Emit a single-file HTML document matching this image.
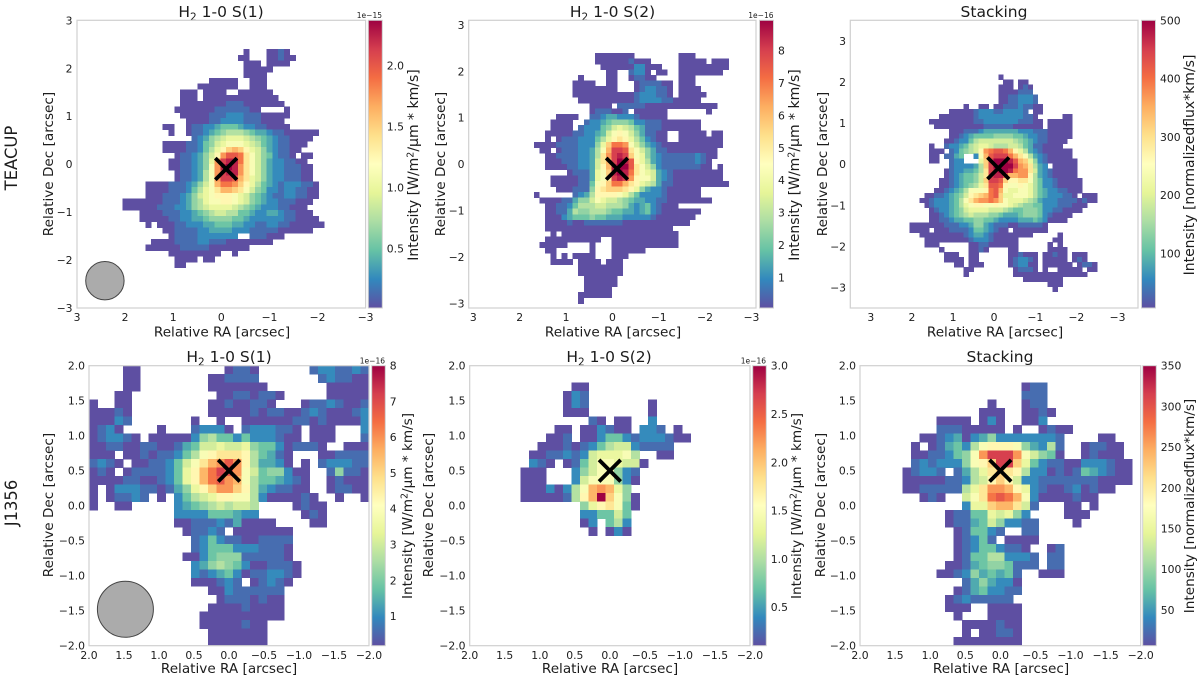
<!DOCTYPE html>
<html lang="en">
<head>
<meta charset="utf-8">
<title>H2 emission maps</title>
<style>
html,body{margin:0;padding:0;background:#fff;}
svg{display:block;filter:blur(0.35px);font-family:"DejaVu Sans","Liberation Sans",sans-serif;}
text{fill:#1c1c1c;}
.title{font-size:15.5px;text-anchor:middle;}
.axt{font-size:13.6px;text-anchor:middle;}
.cbt{font-size:14px;text-anchor:middle;}
.cbt2{font-size:13.6px;text-anchor:middle;}
.off{font-size:7.5px;text-anchor:end;}
.tick{font-size:10.8px;}
.row{font-size:16.4px;text-anchor:middle;}
.spine{fill:none;stroke:#d0d0d0;stroke-width:1.2;}
</style>
</head>
<body>
<svg id="fig" width="1200" height="680" viewBox="0 0 1200 680" xmlns="http://www.w3.org/2000/svg">
<defs>
<linearGradient id="spectral" x1="0" y1="0" x2="0" y2="1">
<stop offset="0" stop-color="#9e0142"/><stop offset="0.1" stop-color="#d53e4f"/><stop offset="0.2" stop-color="#f46d43"/><stop offset="0.3" stop-color="#fdae61"/><stop offset="0.4" stop-color="#fee08b"/><stop offset="0.5" stop-color="#ffffbf"/><stop offset="0.6" stop-color="#e6f598"/><stop offset="0.7" stop-color="#abdda4"/><stop offset="0.8" stop-color="#66c2a5"/><stop offset="0.9" stop-color="#3288bd"/><stop offset="1" stop-color="#5e4fa2"/>
</linearGradient>
<clipPath id="clip-0"><rect x="77" y="20.3" width="288.6" height="287.7"/></clipPath>
<clipPath id="clip-1"><rect x="468.7" y="20.3" width="287.3" height="287.7"/></clipPath>
<clipPath id="clip-2"><rect x="850.3" y="20.3" width="287.7" height="287.7"/></clipPath>
<clipPath id="clip-3"><rect x="89" y="365.7" width="280" height="280"/></clipPath>
<clipPath id="clip-4"><rect x="469.7" y="365.7" width="280.3" height="280"/></clipPath>
<clipPath id="clip-5"><rect x="860" y="365.7" width="280.7" height="280"/></clipPath>
</defs>

<text class="row" transform="translate(17,158) rotate(-90)">TEACUP</text>
<text class="row" transform="translate(17,503) rotate(-90)">J1356</text>

<g id="panel-0">
<text class="title" x="221" y="17">H<tspan font-size="10.5" dy="3.5">2</tspan><tspan dy="-3.5"> 1-0 S(1)</tspan></text>
<text class="axt" x="222" y="336.5">Relative RA [arcsec]</text>
<text class="axt" transform="translate(53,164) rotate(-90)">Relative Dec [arcsec]</text>
<rect x="368.3" y="20.3" width="14" height="287.7" fill="url(#spectral)" stroke="#d0d0d0" stroke-width="1"/>
<text class="off" x="382" y="18">1e−15</text>
<text class="cbt" transform="translate(418,165) rotate(-90)">Intensity [W/m<tspan font-size="9.5" dy="-4.5">2</tspan><tspan dy="4.5">/μm * km/s]</tspan></text>
</g>

<g id="panel-1">
<text class="title" x="612.5" y="17">H<tspan font-size="10.5" dy="3.5">2</tspan><tspan dy="-3.5"> 1-0 S(2)</tspan></text>
<text class="axt" x="613" y="336.5">Relative RA [arcsec]</text>
<text class="axt" transform="translate(445,164) rotate(-90)">Relative Dec [arcsec]</text>
<rect x="759.5" y="20.3" width="14" height="287.7" fill="url(#spectral)" stroke="#d0d0d0" stroke-width="1"/>
<text class="off" x="773.5" y="18">1e−16</text>
<text class="cbt" transform="translate(799,165) rotate(-90)">Intensity [W/m<tspan font-size="9.5" dy="-4.5">2</tspan><tspan dy="4.5">/μm * km/s]</tspan></text>
</g>

<g id="panel-2">
<text class="title" x="994" y="17">Stacking</text>
<text class="axt" x="995" y="336.5">Relative RA [arcsec]</text>
<text class="axt" transform="translate(827,164) rotate(-90)">Relative Dec [arcsec]</text>
<rect x="1141.5" y="20.3" width="14" height="287.7" fill="url(#spectral)" stroke="#d0d0d0" stroke-width="1"/>
<text class="cbt" transform="translate(1194,165) rotate(-90)">Intensity [normalizedflux*km/s]</text>
</g>

<g id="panel-3">
<text class="title" x="229" y="362">H<tspan font-size="10.5" dy="3.5">2</tspan><tspan dy="-3.5"> 1-0 S(1)</tspan></text>
<text class="axt" x="229" y="673">Relative RA [arcsec]</text>
<text class="axt" transform="translate(53,505) rotate(-90)">Relative Dec [arcsec]</text>
<rect x="371.7" y="365.7" width="13.6" height="280" fill="url(#spectral)" stroke="#d0d0d0" stroke-width="1"/>
<text class="off" x="385" y="363.5">1e−16</text>
<text class="cbt2" transform="translate(412,506) rotate(-90)">Intensity [W/m<tspan font-size="9.5" dy="-4.5">2</tspan><tspan dy="4.5">/μm * km/s]</tspan></text>
</g>

<g id="panel-4">
<text class="title" x="609" y="362">H<tspan font-size="10.5" dy="3.5">2</tspan><tspan dy="-3.5"> 1-0 S(2)</tspan></text>
<text class="axt" x="610" y="673">Relative RA [arcsec]</text>
<text class="axt" transform="translate(433,505) rotate(-90)">Relative Dec [arcsec]</text>
<rect x="752.7" y="365.7" width="13.6" height="280" fill="url(#spectral)" stroke="#d0d0d0" stroke-width="1"/>
<text class="off" x="766" y="363.5">1e−16</text>
<text class="cbt2" transform="translate(801,506) rotate(-90)">Intensity [W/m<tspan font-size="9.5" dy="-4.5">2</tspan><tspan dy="4.5">/μm * km/s]</tspan></text>
</g>

<g id="panel-5">
<text class="title" x="1000" y="362">Stacking</text>
<text class="axt" x="1001" y="673">Relative RA [arcsec]</text>
<text class="axt" transform="translate(825,505) rotate(-90)">Relative Dec [arcsec]</text>
<rect x="1142.7" y="365.7" width="13.6" height="280" fill="url(#spectral)" stroke="#d0d0d0" stroke-width="1"/>
<text class="cbt2" transform="translate(1194,506) rotate(-90)">Intensity [normalizedflux*km/s]</text>
</g>
</svg>

<script>
// Heatmap rows: [first column, level, level, ...]. Levels are twentieths of the colour scale; 0 = masked pixel.
const teacupS1FirstRow = 5;
const teacupS1Rows = [
[29,1,0,0,0,1,1,2,1],
[28,1,1,0,0,0,1,1,2,1,1],
[29,1,1,1,0,1,1,1,1],
[29,1,1,1,1,1],
[29,1,1,1,1],
[23,1,1,1,1,1,0,0,1,1,1],
[21,1,1,1,1,1,1,1,0,0,1,1,1],
[18,1,1,1,0,1,1,1,1,0,0,1,1,1,1,1,1],
[18,1,1,1,0,1,1,1,1,1,1,1,1,1,1,1,1,1],
[18,1,1,1,1,1,1,1,1,2,2,2,1,1,1,1,1,1,1],
[17,1,1,1,1,1,1,1,2,2,2,2,2,2,1,1,0,0,0,0,1],
[18,1,1,1,1,1,2,2,2,3,3,3,2,2,2,1,1,1,1,1],
[19,1,1,1,1,2,2,3,3,3,3,2,2,2,1,1,1,1],
[15,1,1,0,0,1,2,2,3,3,4,5,5,5,4,3,3,2,2,1,1,1,1],
[16,1,0,0,1,2,2,3,4,5,6,7,7,7,6,5,4,4,3,2,2,1,1,1,1,1,1],
[20,2,3,4,6,7,8,9,9,9,8,7,6,5,4,3,2,2,1,1,1,1],
[15,1,1,1,1,2,2,3,5,6,8,9,10,10,10,9,8,7,5,4,3,2,2,1,1,1],
[15,1,1,1,1,2,2,3,5,7,9,11,13,14,13,11,9,8,6,4,3,2,2,1,1],
[17,1,2,2,3,4,6,8,11,15,17,17,16,12,10,8,6,5,3,2,2,1,0,1,1],
[16,1,1,2,2,3,4,6,9,15,18,19,19,16,12,10,8,6,4,3,3,2,2,1,1],
[16,1,1,2,2,3,4,6,10,15,19,20,19,15,12,10,8,6,4,3,3,2,2,2,1,1],
[17,1,2,2,3,4,7,10,15,18,19,19,15,12,10,8,6,4,3,3,2,2,2,1,1],
[17,1,2,2,3,4,7,10,15,18,18,17,14,12,9,8,6,4,3,3,2,2,2,1,1],
[12,1,1,1,1,2,2,2,3,4,6,8,10,14,16,16,15,13,11,9,7,5,4,3,2,3,3,3,2,2,1],
[12,1,1,1,1,2,2,2,3,5,7,9,10,12,14,14,13,12,10,8,6,5,3,3,2,3,3,2,2,1,1],
[12,1,1,1,2,2,2,3,4,6,8,9,10,11,11,11,10,9,8,6,5,4,3,2,2,3,3,2,2,1,1],
[8,1,1,1,1,1,1,1,2,2,2,3,4,6,7,9,10,10,11,11,10,9,8,6,5,4,3,3,2,2,2,1,1,1],
[8,1,1,1,1,1,1,2,2,2,3,3,4,6,7,8,9,9,9,9,8,7,6,5,4,3,3,3,2,2,1,1,1],
[11,1,1,1,1,2,2,2,3,3,4,5,6,7,8,8,7,7,5,5,4,3,3,4,4,3,2,2,1,1,1],
[11,1,1,1,1,1,2,2,3,3,4,4,5,6,6,6,6,5,5,4,3,3,3,3,3,3,2,2,1,1,1,1],
[12,1,0,1,1,1,2,2,3,3,3,4,4,5,5,5,4,4,3,3,2,2,3,3,2,2,1,1,1,1,1,1],
[15,1,1,2,2,2,2,3,3,4,4,4,4,3,3,3,2,2,2,2,2,1,1,1,1,1,1],
[16,1,2,2,2,2,3,3,3,3,3,3,3,0,0,2,2,2,1,1,1],
[13,1,1,1,1,2,2,2,2,3,3,2,2,2,1,1,1,1,1,1,1,1],
[12,1,1,1,1,1,1,2,2,2,2,2,1,1,1,1,1,1,1],
[16,1,1,1,1,1,1,1,1,1,0,0,1],
[17,1,1,1,1,0,1,1],
[17,1,1]
];

const teacupS2FirstRow = 6;
const teacupS2Rows = [
[23,1,1,1,1,1,1,1,0,0,0,0,0,0,0,0,1,1,1],
[23,1,1,1,1,1,1,2,1,1,1,0,0,0,0,0,1,1,1,1,1,0,1,1,1],
[24,1,1,1,1,1,1,3,3,1,1,1,0,0,0,1,1,1,1,1,1,1,1,1],
[25,1,1,0,0,2,3,3,1,0,1,1,0,0,1,1,1,1,1,1,1,1],
[20,1,0,0,0,0,1,1,0,0,1,2,2,1,1,0,0,0,0,1,1,1],
[19,1,1,1,1,0,0,1,1,0,0,0,1,2,2,2,2,1,1,0,1,1,1],
[19,1,1,1,1,1,1,1,1,0,0,0,1,2,3,3,2,2,1,0,1,1,1,1],
[19,1,1,1,1,1,1,1,1,1,1,1,2,3,3,3,2,2,1,0,1,1,1,1,1],
[20,1,1,1,1,1,1,1,1,1,1,2,3,3,3,3,2,2,1,1,1,1,1],
[22,1,1,1,1,0,2,2,2,2,2,1,1,1,1,1,1,1,1,1,1,1,1,1],
[22,1,2,2,2,1,1,2,0,1,1,1,1,1,1,0,0,0,0,0,0,0,1],
[16,1,1,1,1,0,0,2,2,3,4,4,3,3,3,2,1,1,1,1,1],
[15,1,1,1,1,0,0,2,3,3,4,5,6,6,6,5,3,3,2,2,2,1,1,1,1,1,1,1],
[15,1,1,1,1,0,2,3,3,3,5,6,8,9,8,7,5,4,2,2,2,1,1,1,1,1,1,1],
[14,1,1,1,1,1,2,2,3,3,4,5,8,10,11,10,8,6,4,2,2,1,1,0,0,1,1,1,1,1,0,1,1],
[14,1,0,1,2,2,2,3,3,3,5,7,9,11,12,11,9,7,5,3,2,1,1,0,0,1,1,1,1,1,1,1,1],
[12,1,1,1,1,2,2,2,2,3,3,3,6,9,13,16,16,15,10,8,6,4,3,2,1,1,1,1,1,1,1,1,1,1,1],
[13,1,1,0,1,2,2,2,3,3,4,7,10,14,18,18,17,12,10,8,6,4,2,2,1,1,1,1,1,1,1,1,1],
[14,1,1,2,2,2,2,3,3,4,7,12,15,18,19,18,13,10,9,6,4,3,2,2,2,2,2,2,3,2,1,1],
[14,1,1,1,2,2,2,3,3,4,8,12,14,18,20,19,17,11,9,7,4,3,2,2,2,2,2,2,3,2,1],
[14,1,1,1,1,2,2,3,3,4,8,11,14,19,20,20,17,12,10,8,6,3,2,2,2,2,2,2,2,1,1,0,1],
[18,1,2,2,2,4,9,10,13,19,20,19,16,12,10,9,8,4,3,2,1,1,1,1,1,1,1,1,1],
[15,1,1,1,1,1,2,2,4,9,10,12,18,19,18,15,11,10,10,8,4,3,2,1,1,1,1,1,1,1,1,1],
[15,1,1,1,1,1,2,2,5,10,11,13,16,16,14,12,11,9,8,7,4,2,2,1,1,1,1,1,1,1,1,1,1],
[16,1,1,1,2,2,2,6,11,12,13,13,13,12,11,9,6,4,3,3,2,1,1,1,1,1,1],
[12,1,0,0,0,0,0,0,2,3,4,7,11,11,11,11,10,9,7,5,3,3,3,3,2,1,1,1,1,1,1],
[13,1,1,1,1,2,2,4,6,6,8,10,9,8,8,7,6,5,4,4,3,3,2,2,1,1,1,1,1,1,1,1],
[14,1,1,2,2,3,5,7,7,7,8,8,7,7,7,6,4,3,4,5,3,2,1,1,1],
[14,1,1,2,2,4,7,6,6,7,7,7,6,5,5,4,4,3,4,5,3,2,1,1,1,1,1,1,1],
[14,1,1,1,3,4,5,5,5,6,5,5,4,4,4,3,3,3,3,3,2,1,1,1,1,1,1,1],
[14,1,1,1,1,2,1,1,2,2,2,2,2,2,2,1,1,1,1,1,1,1,1,1,1,1,1],
[14,1,1,1,1,1,1,1,1,1,1,1,1,1,1,1,1,1,1,1,1,1,1,1],
[15,1,0,1,1,1,1,1,1,1,1,1,1,1,1,1,1,1,1,1,1,1,1,1],
[14,1,1,1,1,1,1,1,1,1,1,0,0,1,1,1,1,1,1,1,1,1,1,1,1],
[13,1,1,1,1,1,0,0,0,0,1,0,0,0,1,1,1,1,1,1,1,1,1,1,1,1],
[14,1,1,0,0,0,0,0,0,1,0,0,0,1,1,1,1,1,1],
[15,1,0,1,0,1,1,1,1,0,0,0,1,1,1],
[15,1,1,1,1,0,1,1,1,1,0,1,1,1],
[20,1,1,1,1,1,1,1,1],
[20,1,1,1,1,1,1,1,1],
[21,1,1,1,1,1,1],
[21,1,1,1,1,1,1],
[21,1,1,1,1,1],
[20,1,1,1,1,1,1],
[20,1]
];

const teacupStackFirstRow = 11;
const teacupStackRows = [
[30,1],
[31,1,1,0,1,1],
[30,1,1,1,0,1,2,1],
[30,1,1,1,1,2,2,2],
[30,1,1,2,2,3,3,3,2],
[30,1,1,2,2,3,3,3,2],
[23,1,0,0,1,1,0,1,1,2,2,2,3,2,2,1,1],
[20,1,1,1,1,1,2,3,3,3,2,2,3,3,3,3,2,0,1,1],
[18,1,1,1,1,1,1,1,2,3,3,3,3,3,3,3,3,3,2,2,1,0,0,0,0,0,1,1],
[16,1,1,1,1,1,1,1,1,1,2,2,3,3,3,3,3,3,3,2,2,2,1,1,0,1,1,1,1,1],
[17,1,1,1,1,1,1,1,1,1,1,2,2,2,2,2,2,1,1,1,1,1,1,0,1,1,1,1,1],
[20,1,1,1,2,2,2,3,4,4,4,4,4,4,4,3,3,3,2,2,2,1,1,1,1,1],
[20,1,1,2,3,4,5,5,5,5,6,6,6,6,5,5,4,3,3,2,2,1,1,1,1,1],
[19,1,1,2,3,3,5,7,8,8,8,8,8,8,8,7,6,5,4,3,2,2,1,1,1,1],
[16,1,0,0,2,3,3,4,5,7,8,9,9,8,7,7,7,8,8,7,5,4,2,2,1,1,1,1],
[16,1,1,1,0,2,3,5,6,7,8,11,15,16,17,17,16,14,11,9,7,4,3,2,1,1,1,1,1,1],
[16,1,1,0,2,2,4,5,0,0,3,10,14,17,18,18,18,16,14,12,10,7,4,3,2,1,1,1,1,1],
[16,1,1,0,0,2,3,3,0,0,0,9,13,18,20,20,20,19,17,14,13,9,6,3,2,1,1,1,1,1,1],
[20,2,3,3,3,3,4,7,13,18,20,20,20,20,18,15,14,12,7,4,3,0,1,1,1,1,1],
[19,1,2,3,3,4,4,5,7,12,18,19,20,20,19,16,15,15,12,8,4,3,2,1,1,1,1,1],
[19,1,2,3,4,5,5,6,8,12,18,19,19,17,14,14,15,15,11,7,4,3,2,1,1,1,1,1],
[18,1,1,2,3,4,5,5,6,8,13,18,18,17,13,11,11,12,12,10,7,5,3,3,2,1,1,1,1,1],
[18,1,1,2,3,4,5,6,7,9,12,17,17,16,11,10,10,11,10,9,7,5,3,3,2,1,1,1,1,1],
[17,1,1,2,3,4,5,7,10,10,10,11,16,17,14,10,9,9,10,10,9,7,5,4,3,3,2,2,1,1,1],
[15,1,1,2,2,3,4,5,6,8,11,12,13,14,16,17,13,9,9,10,10,10,9,7,5,4,3,3,3,2,2,1,0,1,1,1],
[14,1,1,2,3,3,3,4,5,7,10,12,14,15,15,16,15,13,10,9,9,9,8,7,6,4,3,3,3,2,2,2,2,1,2,1,1],
[15,1,2,3,3,3,4,5,7,9,10,11,11,10,10,11,10,10,9,8,7,6,6,5,5,3,3,3,2,2,2,1,1,1],
[16,1,2,3,3,4,5,6,8,9,9,9,9,8,8,8,7,6,5,5,6,6,6,5,3,3,2,2,1,1,1,1],
[16,1,1,2,3,4,5,6,7,8,7,7,7,6,6,5,4,4,4,5,6,6,6,5,3,2,1,1,1,1],
[16,1,1,2,2,3,4,4,5,5,6,6,5,5,4,3,3,3,3,4,4,4,5,4,3,1,1,1,1],
[12,1,1,1,1,1,1,1,2,2,2,3,3,4,6,6,4,3,2,2,2,1,1,2,2,2,2,2,1],
[12,1,1,1,1,0,1,1,1,2,2,2,2,3,5,5,4,3,2,1,1,0,1,1,1,1,1,1,1],
[14,1,1,1,1,1,1,1,1,1,2,3,4,4,3,2,1,1,1,1,1,1,1,1,0,0,0,0,0,1],
[15,1,1,1,1,1,1,1,1,1,2,3,3,3,2,1,1,1,1,1,0,0,0,0,0,0,0,1,1],
[15,1,1,1,0,0,0,0,0,0,1,1,2,2,1,1,1,1,1,1,0,0,0,0,0,0,1,0,1],
[18,1,0,0,0,0,0,1,1,2,1,0,0,0,0,1,1,0,0,0,0,0,0,1,1,1,1],
[19,1,1,1,0,0,1,1,0,0,0,0,0,0,1,1,2,1,1,1,0,1,1,2,1,1,0,1,1,1],
[19,1,1,1,1,0,1,1,0,0,0,0,0,0,1,2,3,3,2,1,0,1,1,1,1,1,0,1,2,1],
[21,1,1,0,1,1,1,0,0,0,0,0,1,2,3,3,1,1,0,1,1,1,1,1,1,0,1,2,2,1],
[23,1,1,0,0,0,0,0,0,0,0,1,2,2,2,1,0,1,0,0,1,1,1,1,1,0,1,1],
[23,1,0,0,0,0,0,0,0,0,0,1,1,1,1,1,1,1,1,1,1,1,1,1,1,1],
[35,1,1,1,1,1,1,1,1],
[40,1,1,1],
[41,1]
];

const j1356S1FirstRow = 0;
const j1356S1Rows = [
[4,1,1,0,0,0,0,0,0,0,0,0,0,1,2,2,1,0,0,0,0,0,0,2,3,3,2,2,3,2],
[4,1,1,0,0,0,0,0,0,0,0,1,1,2,2,2,2,0,0,0,0,0,0,0,2,3,2,2,1,1],
[4,1,1,0,0,0,0,0,0,0,0,1,1,1,1,1,1,1,0,0,0,0,0,0,0,1,1,1,1,1],
[3,1,1,0,0,0,0,0,0,0,0,0,0,1,1,2,2,1,2,2,1,0,0,0,0,0,1,1,1,1,1],
[0,1,0,0,1,1,0,0,0,0,0,0,0,0,0,1,1,2,1,1,2,2,1,0,0,0,1,2,2,3,2,1,1,2],
[0,1,1,1,2,1,0,0,0,0,0,0,0,0,0,1,1,1,1,1,2,1,2,2,1,1,2,3,2,1,1,1,2,3],
[0,1,1,1,3,2,0,0,0,0,0,0,0,1,0,0,1,0,0,1,1,1,1,1,1,2,2,1,2,1,1,1,1,3],
[0,1,2,3,1,0,0,0,0,1,0,0,0,2,3,3,3,1,0,2,3,3,3,2,2,1,0,1,1,1,0,0,0,3],
[0,1,2,3,3,2,1,0,1,1,1,1,1,3,6,7,5,5,3,5,3,3,3,2,1,1,0,1,1,1,0,0,0,2],
[0,1,1,2,2,1,1,2,2,1,1,2,4,5,8,8,9,8,8,9,6,5,5,3,1,2,2,2,1,0,0,1,1,1],
[0,1,1,1,0,1,1,2,1,2,2,3,5,7,10,11,12,12,12,11,7,5,4,2,1,0,0,0,1,1,2,2,2,2],
[0,2,3,2,1,0,1,1,2,2,3,5,8,10,12,14,15,17,15,11,7,4,4,3,1,0,1,0,2,3,3,3,2,2],
[0,1,2,1,0,1,2,2,2,2,3,5,9,11,14,16,18,17,15,10,8,5,6,6,3,1,1,0,0,2,6,2,2,1],
[0,1,1,1,1,2,2,1,1,2,3,5,9,11,14,16,17,15,14,10,7,5,5,4,3,2,1,0,0,1,2,1,1,1],
[0,1,0,1,3,3,3,2,2,1,2,4,6,9,11,13,15,15,13,11,7,4,3,2,2,1,1,0,0,1,2,2,1,1],
[0,1,0,1,2,2,3,2,0,1,0,3,5,7,8,9,11,11,10,10,7,3,1,1,1,1,2,1,0,0,1,0,0,1],
[0,1,0,0,1,1,0,0,0,0,0,3,4,5,6,7,8,7,8,8,7,0,0,0,0,1,2,1,1],
[10,3,3,3,3,5,5,5,4,3,3,0,0,0,0,0,1,2,1],
[10,1,1,2,2,2,3,2,4,1,1,1,1,0,0,0,0,1,1],
[11,1,2,2,3,2,0,1,1,1,1,1,1,1],
[12,2,3,5,3,2,2,1,1,2,2,2,2],
[12,2,3,5,5,5,3,3,3,2,2,2,1],
[11,1,1,3,5,6,6,6,2,2,2,2,2,1],
[12,3,4,6,7,6,5,3,1,1,2,2,2,1],
[12,3,2,3,4,5,3,1,2,2,3,3,2,1],
[12,1,1,1,2,3,2,0,1,2,3,2,1],
[14,1,1,3,2,2,2,2,2,2],
[15,1,2,2,2,1,2,1,1],
[14,1,1,1,1,2,1,1,1,1],
[13,1,1,1,1,1,1,1,1,1,1],
[13,1,1,1,1,1,2,1,1],
[14,1,1,1,1,1,1,1],
[14,1,1,1,1,1,1,1]
];

const j1356S2FirstRow = 2;
const j1356S2Rows = [
[12,1,1],
[11,1,3,2],
[11,1,3,2,0,0,0,0,0,0,0,1],
[11,1,1,1,0,0,0,0,0,0,0,1],
[14,2,1,0,1,1,0,0,3],
[10,1,1,0,1,1,3,2,1,1,0,3,3,2,0,1],
[9,1,1,2,0,1,1,3,5,5,3,2,3,3,3,2,1,1],
[8,1,1,1,2,1,2,3,5,7,8,8,3,2,2,2,2],
[7,1,1,2,2,3,2,3,8,9,9,9,10,7,0,0,1,1],
[7,3,2,1,0,1,2,5,8,10,10,9,8,8,1],
[6,1,1,1,0,0,0,3,6,8,10,10,6,3,2],
[6,1,1,1,0,0,0,3,8,10,10,10,6,3,1],
[6,1,1,1,3,1,3,7,10,14,15,14,9,6],
[6,1,1,1,1,1,2,7,11,14,20,13,10,6,1],
[13,6,9,11,12,10,5,1],
[13,3,3,5,5,8,5],
[13,1,3,0,5,7,3],
[14,1,0,1,3,1]
];

const j1356StackFirstRow = 2;
const j1356StackRows = [
[19,1,2,2],
[19,2,2,2],
[15,1,0,0,0,1,2,2],
[14,1,1,1,0,0,1,1,2,1],
[9,1,1,1,1,0,1,3,1,0,0,1,1,3],
[9,2,2,2,1,1,1,1,1,0,1,0,0,1,2,1,1],
[7,1,1,2,3,4,1,3,4,6,3,3,3,3,3,3,3,2,0,0,0,0,1,1],
[6,1,0,1,2,4,5,3,7,10,11,11,11,10,6,4,3,7,2,0,0,1,2,2,1,1],
[6,1,1,2,2,3,5,6,10,15,18,18,18,15,10,8,6,5,1,0,0,1,2,1,1,1],
[6,2,3,2,3,3,3,6,10,11,13,18,18,13,9,5,3,2,2,1,1,3,3,3,2,1,1],
[5,1,2,3,3,2,0,2,4,7,9,12,13,12,11,7,3,3,1,2,1,2,5,4,3,2,1,1],
[5,1,1,1,1,1,2,2,3,7,8,11,13,11,8,3,3,2,2,2,2,2,2,2,1,1,1,1],
[5,1,1,2,2,2,2,2,7,9,12,15,15,14,11,9,3,2,1,1,2,3,1,2,1,1],
[7,1,2,1,0,0,8,10,12,16,17,16,14,10,3,1,1,1,1,2,1,1],
[12,3,9,9,13,14,14,12,8,2,0,0,0,1,1,0,1],
[10,1,2,2,5,5,9,8,9,6,3,0,0,0,0,1,1,1],
[10,1,2,2,4,5,8,6,3,3,2,2,0,0,0,0,1],
[11,1,2,5,5,3,2,0,0,2,2],
[11,1,2,3,5,2,0,1,1,1,1],
[11,1,2,3,5,5,3,2,2,1,0,0,1,2],
[11,1,2,5,5,7,7,3,3,3,2,0,2,2],
[10,1,1,2,4,5,6,6,5,2,2,2,0,2,2],
[9,1,1,2,3,6,4,5,4,5,2,0,0,1,1,1],
[12,2,4,6,4,3,3,1],
[11,1,2,4,5,3,3,2,2],
[10,1,2,3,2,2,2,2,2],
[10,1,1,1,0,0,1,1,1,1],
[11,1,0,0,0,1,1,1,1],
[12,1,1,1,1,2,1,1],
[12,1,0,1,1,2,2,1],
[11,1,1,1,1,1,1,1,1]
];

// Axis tick values
const xTicksTeacupS1 = [3,2,1,0,-1,-2,-3];
const yTicksTeacupS1 = [3,2,1,0,-1,-2,-3];
const xTicksTeacupS2 = [3,2,1,0,-1,-2,-3];
const yTicksTeacupS2 = [3,2,1,0,-1,-2,-3];
const xTicksTeacupStack = [3,2,1,0,-1,-2,-3];
const yTicksTeacupStack = [3,2,1,0,-1,-2,-3];
const ticksJ1356 = [2,1.5,1,0.5,0,-0.5,-1,-1.5,-2];

// Colour bar limits and ticks
const cbarLimTeacupS1 = [0.01,2.37];
const cbarTicksTeacupS1 = [0.5,1,1.5,2];
const cbarLimTeacupS2 = [0.05,8.94];
const cbarTicksTeacupS2 = [1,2,3,4,5,6,7,8];
const cbarLimTeacupStack = [6,500];
const cbarTicksTeacupStack = [100,200,300,400,500];
const cbarLimJ1356S1 = [0.17,8];
const cbarTicksJ1356S1 = [1,2,3,4,5,6,7,8];
const cbarLimJ1356S2 = [0.1,3];
const cbarTicksJ1356S2 = [0.5,1,1.5,2,2.5,3];
const cbarLimJ1356Stack = [6,350];
const cbarTicksJ1356Stack = [50,100,150,200,250,300,350];

// Peak marker position [RA, Dec] per field, beam [RA, Dec, radius]
const peakTeacup = [-0.1,-0.1];
const peakJ1356 = [0,0.5];
const beamTeacupS1 = [2.42,-2.43,0.4];
const beamJ1356S1 = [1.48,-1.48,0.4];

const cmapStops = [[94,79,162],[50,136,189],[102,194,165],[171,221,164],[230,245,152],[255,255,191],[254,224,139],[253,174,97],[244,109,67],[213,62,79],[158,1,66]];

function colorOf(level){
  const t = Math.max(0,Math.min(1,(level-1)/19))*10;
  const i = Math.min(9,Math.floor(t));
  const f = t-i;
  const a = cmapStops[i], b = cmapStops[i+1];
  return 'rgb('+a.map((v,k)=>Math.round(v+(b[k]-v)*f)).join(',')+')';
}

const NS = 'http://www.w3.org/2000/svg';
function mk(tag,attrs,parent){
  const el = document.createElementNS(NS,tag);
  for(const k in attrs) el.setAttribute(k,attrs[k]);
  parent.appendChild(el);
  return el;
}
function fmt(v,d){
  return (v<0?'\u2212':'')+Math.abs(v).toFixed(d);
}

const panels = [
 {rows:teacupS1Rows,first:teacupS1FirstRow,ra0:3.018,dec0:3,cell:0.12,xLim:[3,-3],yLim:[-3,3],box:[77,365.6,20.3,308],xTicks:xTicksTeacupS1,yTicks:yTicksTeacupS1,dec:0,peak:peakTeacup,beam:beamTeacupS1,cLim:cbarLimTeacupS1,cTicks:cbarTicksTeacupS1,cDec:1,cBox:[368.3,382.3],xLabelY:317,yLabelX:72.5},
 {rows:teacupS2Rows,first:teacupS2FirstRow,ra0:3.136,dec0:3.12,cell:0.12,xLim:[3.1,-3.1],yLim:[-3.1,3.1],box:[468.7,756,20.3,308],xTicks:xTicksTeacupS2,yTicks:yTicksTeacupS2,dec:0,peak:peakTeacup,beam:null,cLim:cbarLimTeacupS2,cTicks:cbarTicksTeacupS2,cDec:0,cBox:[759.5,773.5],xLabelY:317,yLabelX:464.5},
 {rows:teacupStackRows,first:teacupStackFirstRow,ra0:3.5,dec0:3.5,cell:0.12,xLim:[3.5,-3.5],yLim:[-3.5,3.5],box:[850.3,1138,20.3,308],xTicks:xTicksTeacupStack,yTicks:yTicksTeacupStack,dec:0,peak:peakTeacup,beam:null,cLim:cbarLimTeacupStack,cTicks:cbarTicksTeacupStack,cDec:0,cBox:[1141.5,1155.5],xLabelY:317,yLabelX:846},
 {rows:j1356S1Rows,first:j1356S1FirstRow,ra0:2,dec0:2,cell:0.1212,xLim:[2,-2],yLim:[-2,2],box:[89,369,365.7,645.7],xTicks:ticksJ1356,yTicks:ticksJ1356,dec:1,peak:peakJ1356,beam:beamJ1356S1,cLim:cbarLimJ1356S1,cTicks:cbarTicksJ1356S1,cDec:0,cBox:[371.7,385.3],xLabelY:655,yLabelX:85},
 {rows:j1356S2Rows,first:j1356S2FirstRow,ra0:2,dec0:2,cell:0.1212,xLim:[2,-2],yLim:[-2,2],box:[469.7,750,365.7,645.7],xTicks:ticksJ1356,yTicks:ticksJ1356,dec:1,peak:peakJ1356,beam:null,cLim:cbarLimJ1356S2,cTicks:cbarTicksJ1356S2,cDec:1,cBox:[752.7,766.3],xLabelY:655,yLabelX:465.5},
 {rows:j1356StackRows,first:j1356StackFirstRow,ra0:2,dec0:2,cell:0.1212,xLim:[2,-2],yLim:[-2,2],box:[860,1140.7,365.7,645.7],xTicks:ticksJ1356,yTicks:ticksJ1356,dec:1,peak:peakJ1356,beam:null,cLim:cbarLimJ1356Stack,cTicks:cbarTicksJ1356Stack,cDec:0,cBox:[1142.7,1156.3],xLabelY:655,yLabelX:856}
];

panels.forEach(function(p,idx){
  const root = document.getElementById('panel-'+idx);
  const L=p.box[0],R=p.box[1],T=p.box[2],B=p.box[3];
  const sx = function(ra){ return L+(ra-p.xLim[0])/(p.xLim[1]-p.xLim[0])*(R-L); };
  const sy = function(dec){ return B-(dec-p.yLim[0])/(p.yLim[1]-p.yLim[0])*(B-T); };
  const sc = function(v){ return B-(v-p.cLim[0])/(p.cLim[1]-p.cLim[0])*(B-T); };

  const heat = mk('g',{'clip-path':'url(#clip-'+idx+')','shape-rendering':'crispEdges'},root);
  
  
  p.rows.forEach(function(row,ri){
    const dec = p.dec0-(ri+p.first)*p.cell;
    for(let j=1;j<row.length;j++){
      if(!row[j]) continue;
      const ra = p.ra0-(row[0]+j-1)*p.cell;
      const x0 = sx(ra), y0 = sy(dec);
      const r = mk('rect',{x:x0.toFixed(2),y:y0.toFixed(2),width:(sx(ra-p.cell)-x0+0.4).toFixed(2),height:(sy(dec-p.cell)-y0+0.4).toFixed(2),fill:colorOf(row[j])},heat);
      
      
    }
  });

  const spine = mk('rect',{class:'spine',x:L,y:T,width:R-L,height:B-T},root);
  
  

  p.xTicks.forEach(function(v){
    const t = mk('text',{class:'tick',x:sx(v).toFixed(1),y:p.xLabelY+4,'text-anchor':'middle'},root);
    t.textContent = fmt(v,p.dec);
    
    
  });
  p.yTicks.forEach(function(v){
    const t = mk('text',{class:'tick',x:p.yLabelX,y:(sy(v)+4).toFixed(1),'text-anchor':'end'},root);
    t.textContent = fmt(v,p.dec);
    
    
  });
  p.cTicks.forEach(function(v){
    const t = mk('text',{class:'tick',x:p.cBox[1]+4.5,y:(sc(v)+4).toFixed(1),'text-anchor':'start'},root);
    t.textContent = fmt(v,p.cDec);
    
    
  });

  if(p.beam){
    const c = mk('circle',{cx:sx(p.beam[0]).toFixed(1),cy:sy(p.beam[1]).toFixed(1),r:Math.abs(sx(p.beam[2])-sx(0)).toFixed(1),fill:'#ababab',stroke:'#444','stroke-width':1},root);
    
    
  }
  const px = sx(p.peak[0]), py = sy(p.peak[1]), s = 10.8;
  const cross = mk('path',{d:'M'+(px-s)+' '+(py-s)+'L'+(px+s)+' '+(py+s)+'M'+(px-s)+' '+(py+s)+'L'+(px+s)+' '+(py-s),fill:'none',stroke:'#000','stroke-width':3.8},root);
  
  
});
</script>
</body>
</html>
